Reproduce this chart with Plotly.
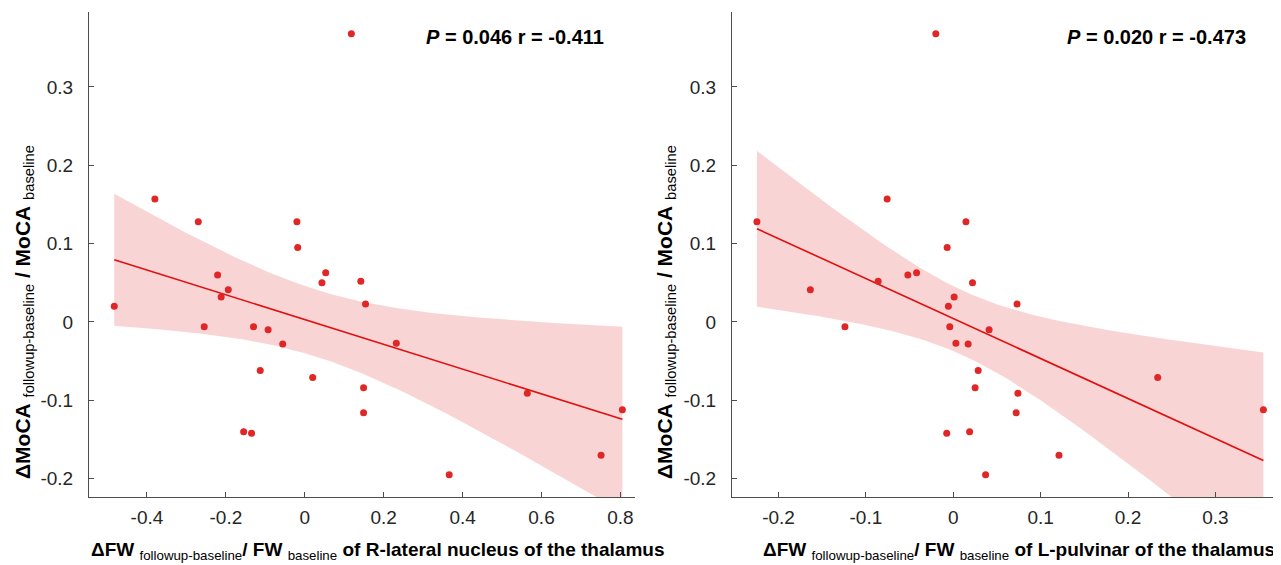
import numpy as np
import plotly.graph_objects as go

# ---- data ----
moca_change = [0.368, 0.157, 0.128, 0.128, 0.095, 0.063, 0.060, 0.052, 0.050, 0.041,
               0.032, 0.023, 0.020, -0.006, -0.006, -0.010, -0.027, -0.028, -0.062,
               -0.071, -0.084, -0.091, -0.112, -0.116, -0.140, -0.142, -0.170, -0.195]
fw_r_lateral = [0.118, -0.380, -0.270, -0.020, -0.018, 0.053, -0.221, 0.142, 0.0435, -0.194,
                -0.212, 0.154, -0.483, -0.255, -0.130, -0.093, 0.232, -0.056, -0.113,
                0.020, 0.149, 0.564, 0.805, 0.149, -0.155, -0.135, 0.751, 0.366]
fw_l_pulvinar = [-0.020, -0.0757, -0.2248, 0.0145, -0.007, -0.042, -0.052, -0.086, 0.022, -0.1636,
                 0.001, 0.073, -0.0056, -0.124, -0.004, 0.041, 0.003, 0.017, 0.0285,
                 0.234, 0.025, 0.074, 0.355, 0.072, 0.0187, -0.0075, 0.121, 0.037]

stats_text = ["<b><i>P</i> = 0.046 r = -0.411</b>", "<b><i>P</i> = 0.020 r = -0.473</b>"]
x_titles = ["<b>ΔFW</b> <sub>followup-baseline</sub><b>/ FW</b> <sub>baseline</sub><b> of R-lateral nucleus of the thalamus</b>",
            "<b>ΔFW</b> <sub>followup-baseline</sub><b>/ FW</b> <sub>baseline</sub><b> of L-pulvinar of the thalamus</b>"]
y_title = "<b>ΔMoCA</b> <sub>followup-baseline</sub><b> / MoCA</b> <sub>baseline</sub>"

y_tickvals = [-0.2, -0.1, 0, 0.1, 0.2, 0.3]
y_ticktext = ["-0.2", "-0.1", "0", "0.1", "0.2", "0.3"]
x1_tickvals = [-0.4, -0.2, 0, 0.2, 0.4, 0.6, 0.8]
x1_ticktext = ["-0.4", "-0.2", "0", "0.2", "0.4", "0.6", "0.8"]
x2_tickvals = [-0.2, -0.1, 0, 0.1, 0.2, 0.3]
x2_ticktext = ["-0.2", "-0.1", "0", "0.1", "0.2", "0.3"]

# page body has an 8px margin; figure is sized/positioned to compensate
OFF = 8
W, H = 1281 - OFF, 565 - OFF
RED = "#e02626"
LINE = "#e00f0f"
BAND = "rgba(228,60,60,0.22)"
FONT = "Liberation Sans, Arial, sans-serif"
AX = "#4d4d4d"


def px_x(x):
    return (x - OFF) / W


def px_y(y):
    return 1 - (y - OFF) / H


def fit_band(x, y, n_pts=120):
    x = np.asarray(x, float)
    y = np.asarray(y, float)
    n = len(x)
    b, a = np.polyfit(x, y, 1)
    xs = np.linspace(x.min(), x.max(), n_pts)
    yh = a + b * xs
    resid = y - (a + b * x)
    s = np.sqrt(np.sum(resid ** 2) / (n - 2))
    sxx = np.sum((x - x.mean()) ** 2)
    t = 2.0555  # t(0.975, 26)
    half = t * s * np.sqrt(1.0 / n + (xs - x.mean()) ** 2 / sxx)
    return xs, yh, yh - half, yh + half


fig = go.Figure()

panels = [
    (fw_r_lateral, "x", "y"),
    (fw_l_pulvinar, "x2", "y2"),
]
for xdata, xa, ya in panels:
    xs, yh, lo, hi = fit_band(xdata, moca_change)
    fig.add_trace(go.Scatter(
        x=np.concatenate([xs, xs[::-1]]), y=np.concatenate([hi, lo[::-1]]),
        fill="toself", fillcolor=BAND, line=dict(width=0), mode="lines",
        hoverinfo="skip", showlegend=False, xaxis=xa, yaxis=ya))
    fig.add_trace(go.Scatter(
        x=xs, y=yh, mode="lines", line=dict(color=LINE, width=1.6),
        showlegend=False, xaxis=xa, yaxis=ya))
    fig.add_trace(go.Scatter(
        x=xdata, y=moca_change, mode="markers",
        marker=dict(color=RED, size=7, line=dict(width=0)),
        showlegend=False, xaxis=xa, yaxis=ya))

common_ax = dict(showline=True, linecolor=AX, linewidth=1, showgrid=False, zeroline=False,
                 ticklen=5, tickwidth=1, tickcolor=AX, ticks="inside",
                 tickfont=dict(family=FONT, size=19, color="#262626"))

ydom = [px_y(497), px_y(12)]
fig.update_layout(
    width=W, height=H, margin=dict(l=0, r=0, t=0, b=0),
    paper_bgcolor="white", plot_bgcolor="white",
    xaxis=dict(domain=[px_x(89), px_x(635)], range=[-0.547, 0.837], tickvals=x1_tickvals,
               ticktext=x1_ticktext, anchor="y", ticklabelstandoff=3, **common_ax),
    yaxis=dict(domain=ydom, range=[-0.2234, 0.3957], tickvals=y_tickvals, ticktext=y_ticktext,
               anchor="x", ticklabelstandoff=11, **common_ax),
    xaxis2=dict(domain=[px_x(732), px_x(1280)], range=[-0.2533, 0.374], tickvals=x2_tickvals,
                ticktext=x2_ticktext, anchor="y2", ticklabelstandoff=3, **common_ax),
    yaxis2=dict(domain=ydom, range=[-0.2234, 0.3957], tickvals=y_tickvals, ticktext=y_ticktext,
                anchor="x2", ticklabelstandoff=11, **common_ax),
)

annots = []
for txt, cx in zip(stats_text, [515, 1156]):
    annots.append(dict(text=txt, x=px_x(cx), y=px_y(37), xref="paper", yref="paper",
                       xanchor="center", yanchor="middle", showarrow=False,
                       font=dict(family=FONT, size=20, color="black")))
for txt, cx in zip(x_titles, [377, 1019]):
    annots.append(dict(text=txt, x=px_x(cx), y=px_y(551), xref="paper", yref="paper",
                       xanchor="center", yanchor="middle", showarrow=False,
                       font=dict(family=FONT, size=19, color="black")))
for cx in [24, 666]:
    annots.append(dict(text=y_title, x=px_x(cx), y=px_y(312), xref="paper", yref="paper",
                       xanchor="center", yanchor="middle", showarrow=False, textangle=-90,
                       font=dict(family=FONT, size=21, color="black")))
fig.update_layout(annotations=annots)

fig.write_html("out.html")
